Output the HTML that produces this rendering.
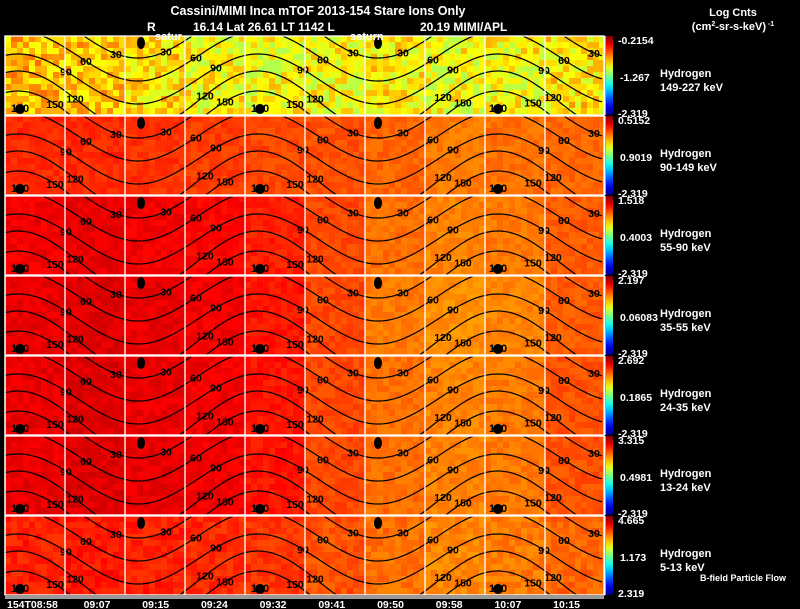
<!DOCTYPE html>
<html><head><meta charset="utf-8"><style>
html,body{margin:0;padding:0;background:#000;width:800px;height:609px;overflow:hidden}
svg{display:block}
text{font-family:"Liberation Sans",sans-serif;font-weight:bold}
</style></head><body>
<svg id="chart" width="800" height="609" viewBox="0 0 800 609" xmlns="http://www.w3.org/2000/svg">
<text x="318" y="15" fill="#fff" font-size="12.5" text-anchor="middle">Cassini/MIMI Inca mTOF  2013-154   Stare   Ions Only</text>
<text x="147" y="31" fill="#fff" font-size="12">R</text>
<text x="193" y="31" fill="#fff" font-size="12">16.14 Lat 26.61 LT 1142 L</text>
<text x="420" y="31" fill="#fff" font-size="12">20.19  MIMI/APL</text>
<text x="733" y="16" fill="#fff" font-size="11" text-anchor="middle">Log Cnts</text>
<text x="733" y="30" fill="#fff" font-size="11" text-anchor="middle">(cm<tspan font-size="7" dy="-4">2</tspan><tspan dy="4">-sr-s-keV)</tspan><tspan font-size="7" dy="-4"> -1</tspan></text>
<g id="panels"></g>
<rect x="5" y="595" width="599" height="4" fill="#999"/>
<g id="ticks"></g>
<text x="155" y="40" fill="#fff" font-size="11">satur</text>
<text x="350" y="40" fill="#fff" font-size="11">saturn</text>
<text x="700" y="581" fill="#fff" font-size="9">B-field Particle Flow</text>
</svg>
<script>
// ---- data ----
const energyLabels = ["149-227 keV","90-149 keV","55-90 keV","35-55 keV","24-35 keV","13-24 keV","5-13 keV"];
const cbTop = ["-0.2154","0.5152","1.518","2.197","2.692","3.315","4.665"];
const cbMid = ["-1.267","0.9019","0.4003","0.06083","0.1865","0.4981","1.173"];
const cbBot = ["-2.319","-2.319","-2.319","-2.319","-2.319","-2.319","2.319"];
const timeLabels = ["154T08:58","09:07","09:15","09:24","09:32","09:41","09:50","09:58","10:07","10:15"];
// normalized intensity level (0=blue,1=red) per 60px segment for each panel
const level1 = [0.70,0.70,0.67,0.64,0.63,0.64,0.65,0.63,0.64,0.66];
const level2 = [0.84,0.84,0.83,0.82,0.81,0.80,0.78,0.76,0.77,0.78];
const level3 = [0.89,0.90,0.89,0.88,0.85,0.81,0.77,0.75,0.76,0.79];
const level4 = [0.90,0.91,0.90,0.89,0.86,0.81,0.76,0.74,0.75,0.79];
const level5 = [0.90,0.91,0.90,0.89,0.86,0.81,0.77,0.75,0.76,0.80];
const level6 = [0.90,0.91,0.90,0.89,0.86,0.81,0.77,0.75,0.76,0.80];
const level7 = [0.85,0.86,0.85,0.84,0.83,0.80,0.77,0.75,0.76,0.78];
const levels = [level1,level2,level3,level4,level5,level6,level7];
const noiseAmp = [0.08,0.02,0.02,0.02,0.02,0.02,0.025];
const contourLevels = [30,60,90,120,150];

const NS="http://www.w3.org/2000/svg";
const X0=5, X1=604, PH=79, PG=80, Y0=36;
function xOfSeg(i){return X0+i*60;}
function jet(v){
  v=Math.max(0,Math.min(1,v));
  const r=Math.max(0,Math.min(1,1.5-Math.abs(4*v-3)));
  const g=Math.max(0,Math.min(1,1.5-Math.abs(4*v-2)));
  const b=Math.max(0,Math.min(1,1.5-Math.abs(4*v-1)));
  return `rgb(${Math.round(r*255)},${Math.round(g*255)},${Math.round(b*255)})`;
}
function tex(i,j,p){let h=(i*374761393+j*668265263+p*2246822519)>>>0;h=((h^(h>>>13))*1274126177)>>>0;return ((h&1023)/1023)-0.5;}
function mk(tag,attrs){const e=document.createElementNS(NS,tag);for(const k in attrs)e.setAttribute(k,attrs[k]);return e;}
const panelsG=document.getElementById('panels');
const cbase={30:-4,60:20,90:43,120:65,150:85}, camp={30:26,60:25,90:25,120:30,150:30};
const topDots=[141,378], botDots=[20,260,498];
const labOffTop={30:25,60:55,90:75}, labOffBot={150:35,120:55,90:75};
function cy(k,x){return cbase[k]+camp[k]*Math.cos(2*Math.PI*(x-378)/240);}
for(let p=0;p<7;p++){
  const y0=Y0+p*PG;
  const g=mk('g',{});
  
  
  const clip=mk('clipPath',{id:'c'+p});clip.appendChild(mk('rect',{x:X0,y:y0,width:X1-X0,height:PH}));g.appendChild(clip);
  const cells=mk('g',{'clip-path':'url(#c'+p+')'});
  
  
  const lv=levels[p];
  for(let i=0;i<100;i++){
    const seg=Math.min(9,Math.floor(i/10));
    for(let j=0;j<14;j++){
      const v=lv[seg]+noiseAmp[p]*2*tex(i,j,p);
      cells.appendChild(mk('rect',{x:X0+i*6,y:y0+j*6,width:6,height:6,fill:jet(v)}));
    }
  }
  contourLevels.forEach(k=>{
    let d='';
    for(let x=X0;x<=X1;x+=3){
      d+=(x===X0?'M':'L')+x+' '+(y0+cy(k,x)).toFixed(1);
    }
    const path=mk('path',{d:d,fill:'none',stroke:'#000','stroke-width':1.2});
    
    
    cells.appendChild(path);
  });
  function lab(k,x){
    const y=cy(k,x);
    if(x<X0+8||x>X1-8||y<6||y>PH-3)return;
    const t=mk('text',{x:x,y:y0+y+4,'font-size':10.5,fill:'#000','text-anchor':'middle'});
    t.textContent=k;cells.appendChild(t);
  }
  topDots.concat([-99,619]).forEach(d=>{[30,60,90].forEach(k=>{lab(k,d-labOffTop[k]);lab(k,d+labOffTop[k]);});});
  botDots.forEach(d=>{[120,150].forEach(k=>{lab(k,d-labOffBot[k]);lab(k,d+labOffBot[k]);});});
  topDots.forEach(cx=>{cells.appendChild(mk('ellipse',{cx:cx,cy:y0+7,rx:4,ry:6,fill:'#000'}));});
  botDots.forEach(cx=>{cells.appendChild(mk('circle',{cx:cx,cy:y0+PH-6,r:5,fill:'#000'}));
    const t=mk('text',{x:cx,y:y0+PH-3,'font-size':11,fill:'#000','text-anchor':'middle'});t.textContent='180';cells.appendChild(t);});
  g.appendChild(cells);
  for(let s=0;s<=10;s++){
    g.appendChild(mk('line',{x1:xOfSeg(s),x2:xOfSeg(s),y1:y0,y2:y0+PH,stroke:'#fff','stroke-width':1.3}));
  }
  g.appendChild(mk('rect',{x:X0,y:y0,width:X1-X0,height:PH,fill:'none',stroke:'#fff','stroke-width':1.3}));
  const gradId='gr'+p;
  const grad=mk('linearGradient',{id:gradId,x1:0,y1:1,x2:0,y2:0});
  for(let s=0;s<=10;s++){grad.appendChild(mk('stop',{offset:s/10,'stop-color':jet(s/10)}));}
  g.appendChild(grad);
  const cb=mk('rect',{x:606,y:y0,width:7,height:PH,fill:'url(#'+gradId+')'});
  
  
  g.appendChild(cb);
  const t1=mk('text',{x:618,y:y0+8,'font-size':10.5,fill:'#fff'});t1.textContent=cbTop[p];g.appendChild(t1);
  const t2=mk('text',{x:620,y:y0+45,'font-size':10.5,fill:'#fff'});t2.textContent=cbMid[p];g.appendChild(t2);
  const t3=mk('text',{x:618,y:y0+PH+2,'font-size':10.5,fill:'#fff'});t3.textContent=cbBot[p];g.appendChild(t3);
  const h=mk('text',{x:660,y:y0+41,'font-size':11,fill:'#fff'});h.textContent='Hydrogen';
  
  
  g.appendChild(h);
  const e=mk('text',{x:660,y:y0+55,'font-size':11,fill:'#fff'});e.textContent=energyLabels[p];
  
  
  g.appendChild(e);
  panelsG.appendChild(g);
}
const ticksG=document.getElementById('ticks');
timeLabels.forEach((s,i)=>{
  const t=mk('text',{x:i===0?7:97+(i-1)*58.7,y:608,'font-size':10.5,fill:'#fff','text-anchor':i===0?'start':'middle'});
  
  
  t.textContent=s;ticksG.appendChild(t);
});
</script>
</body></html>
